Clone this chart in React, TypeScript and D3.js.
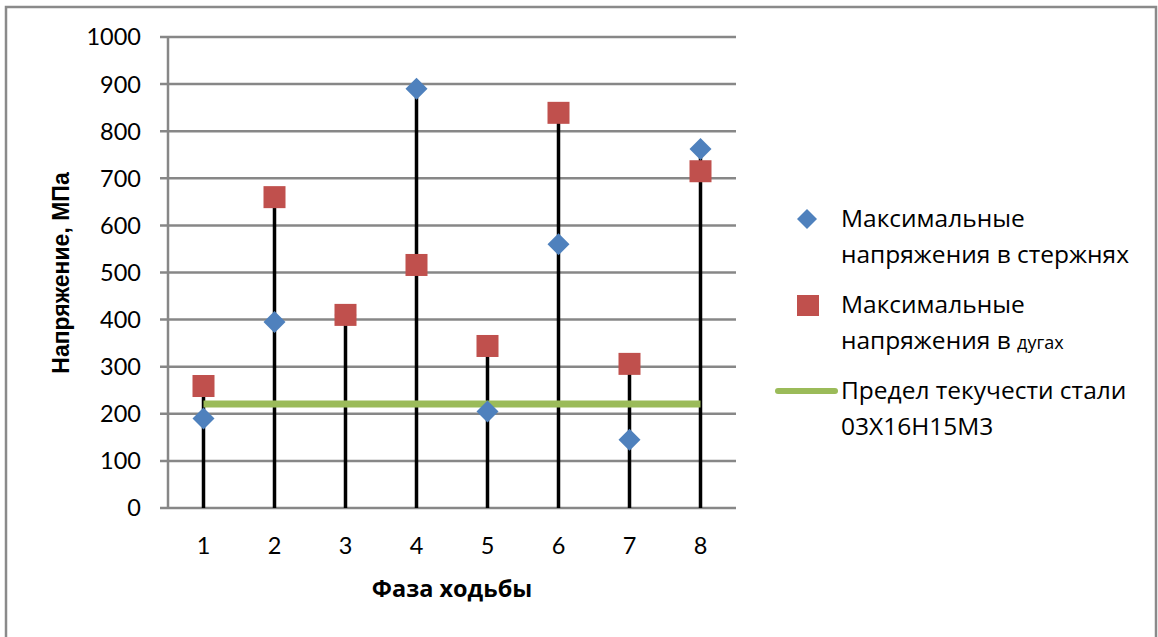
import React from "react";
import * as d3 from "d3";

const categories = [1, 2, 3, 4, 5, 6, 7, 8];
const rodStress = [190, 395, 410, 890, 205, 560, 145, 762];
const arcStress = [259, 660, 410, 516, 344, 839, 306, 715];
const yieldLimit = [221, 221, 221, 221, 221, 221, 221, 221];
const yTicks = [0, 100, 200, 300, 400, 500, 600, 700, 800, 900, 1000];

const W = 1158;
const H = 637;
const left = 168;
const right = 736;
const top = 37;
const bottom = 508;
const font = "Lato, 'Open Sans', sans-serif";
const lfont = "'Open Sans', sans-serif";
const GRID = "#878787";
const BLUE = "#4F81BD";
const RED = "#C0504D";
const GREEN = "#9BBB59";

export default function App() {
  const x = d3.scaleLinear().domain([0.5, 8.5]).range([left, right]);
  const y = d3.scaleLinear().domain([0, 1000]).range([bottom, top]);
  const greenLine = d3
    .line<number>()
    .x((_, i) => x(categories[i]))
    .y((d) => y(d));
  const diamond = (cx: number, cy: number, r: number) =>
    `M${cx},${cy - r}L${cx + r},${cy}L${cx},${cy + r}L${cx - r},${cy}Z`;

  return (
    <svg
      width={W}
      height={H}
      style={{ position: "absolute", left: 0, top: 0 }}
      fontFamily={font}
    >
      <rect x={0} y={0} width={W} height={H} fill="#fff" />
      <rect x={6} y={7} width={1150} height={H + 10} fill="none" stroke="#8a8a8a" strokeWidth={2.5} />

      {/* gridlines */}
      {yTicks.map((t) => (
        <line key={t} x1={left - 8} x2={right} y1={y(t)} y2={y(t)} stroke={GRID} strokeWidth={2.5} />
      ))}
      <line x1={left} x2={left} y1={top} y2={bottom} stroke={GRID} strokeWidth={2.5} />

      {yTicks.map((t) => (
        <text key={t} x={141} y={y(t)} dy="0.36em" textAnchor="end" fontSize={23.5} fill="#000">
          {t}
        </text>
      ))}
      {categories.map((c) => (
        <text key={c} x={x(c)} y={546} dy="0.36em" textAnchor="middle" fontSize={23.5} fill="#000">
          {c}
        </text>
      ))}

      {/* drop lines */}
      {categories.map((c, i) => (
        <line
          key={c}
          x1={x(c)}
          x2={x(c)}
          y1={bottom}
          y2={y(Math.max(rodStress[i], arcStress[i]))}
          stroke="#000"
          strokeWidth={3.5}
        />
      ))}

      <path d={greenLine(yieldLimit) || ""} fill="none" stroke={GREEN} strokeWidth={7} />

      {rodStress.map((v, i) => (
        <path key={i} d={diamond(x(categories[i]), y(v), 11)} fill={BLUE} />
      ))}
      {arcStress.map((v, i) => (
        <rect key={i} x={x(categories[i]) - 11} y={y(v) - 11} width={22} height={22} fill={RED} />
      ))}

      <text
        transform={`translate(69,273) rotate(-90)`}
        textAnchor="middle"
        fontFamily="'Liberation Sans', Arial, sans-serif"
        fontWeight="bold"
        fontSize={23}
        fill="#000"
      >
        Напряжение, МПа
      </text>
      <text
        x={452}
        y={597}
        textAnchor="middle"
        fontFamily={lfont}
        fontWeight="bold"
        fontSize={23.5}
        fill="#000"
      >
        Фаза ходьбы
      </text>

      {/* legend */}
      <g fontFamily={lfont} fontSize={24.5} fill="#000">
        <path d={diamond(807, 219, 10)} fill={BLUE} />
        <text x={841} y={227}>Максимальные</text>
        <text x={841} y={263}>напряжения в стержнях</text>
        <rect x={797} y={295} width={22} height={21} fill={RED} />
        <text x={841} y={313}>Максимальные</text>
        <text x={841} y={349}>
          напряжения в <tspan fontSize={18}>дугах</tspan>
        </text>
        <line x1={778} x2={835} y1={391} y2={391} stroke={GREEN} strokeWidth={6} strokeLinecap="round" />
        <text x={841} y={399}>Предел текучести стали</text>
        <text x={841} y={435}>03Х16Н15М3</text>
      </g>
    </svg>
  );
}
